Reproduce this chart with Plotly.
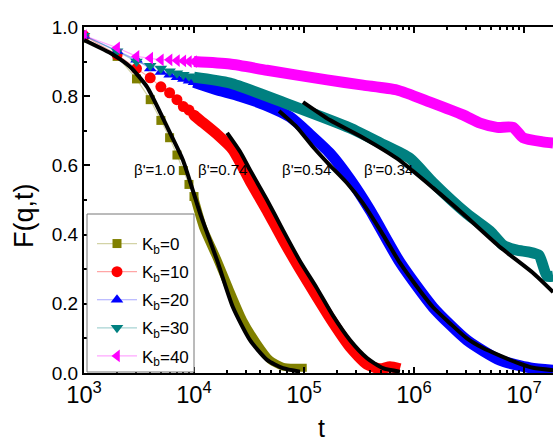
import plotly.graph_objects as go

# ---------------- data ----------------
t_sparse = [1e3, 2e3, 3e3, 4e3, 5e3, 6e3, 7e3, 8e3, 9e3, 1e4]

F0_sparse = [0.968, 0.915, 0.85, 0.79, 0.73, 0.68, 0.63, 0.585, 0.545, 0.51]
F10_sparse = [0.975, 0.92, 0.88, 0.853, 0.827, 0.81, 0.79, 0.77, 0.76, 0.745]
F20_sparse = [0.975, 0.93, 0.905, 0.88, 0.87, 0.862, 0.855, 0.85, 0.845, 0.84]
F30_sparse = [0.975, 0.93, 0.90, 0.888, 0.88, 0.872, 0.866, 0.862, 0.858, 0.855]
F40_sparse = [0.975, 0.94, 0.915, 0.91, 0.905, 0.905, 0.903, 0.902, 0.90, 0.90]

t0_dense = [1e4, 1.21e4, 1.62e4, 2.12e4, 2.79e4, 3.74e4, 4.91e4, 6.44e4, 8.28e4, 1.06e5]
F0_dense = [0.51, 0.42, 0.33, 0.24, 0.153, 0.087, 0.038, 0.018, 0.015, 0.015]

t10_dense = [1e4, 1.14e4, 1.62e4, 2.26e4, 3.23e4, 4.61e4, 6.44e4, 9.2e4, 1.31e5,
             1.84e5, 2.62e5, 3.74e5, 4.91e5, 6.05e5, 7.46e5]
F10_dense = [0.745, 0.73, 0.69, 0.645, 0.555, 0.47, 0.385, 0.30, 0.22,
             0.145, 0.075, 0.025, 0.012, 0.018, 0.012]

t20_dense = [1e4, 1.55e4, 2.62e4, 4.4e4, 7.46e4, 1.13e5, 1.72e5, 2.62e5, 4.0e5,
             7.46e5, 1.49e6, 3.03e6, 6.05e6, 1.14e7, 1.84e7]
F20_dense = [0.84, 0.82, 0.80, 0.775, 0.74, 0.69, 0.635, 0.56, 0.47,
             0.32, 0.19, 0.095, 0.037, 0.015, 0.008]

t30_dense = [1e4, 2.12e4, 7.46e4, 2.62e5, 4.91e5, 9.2e5, 1.49e6, 3.03e6, 4.91e6,
             6.44e6, 8.63e6, 1.09e7, 1.37e7, 1.62e7, 1.84e7]
F30_dense = [0.855, 0.838, 0.775, 0.708, 0.665, 0.62, 0.55, 0.46, 0.41,
             0.37, 0.355, 0.35, 0.34, 0.28, 0.28]

t40_dense = [1e4, 2.12e4, 4.61e4, 1.62e5, 3.44e5, 7.0e5, 1.4e6, 2.79e6, 4.0e6,
             5.69e6, 7.94e6, 9.8e6, 1.49e7, 1.84e7]
F40_dense = [0.90, 0.893, 0.875, 0.847, 0.832, 0.818, 0.783, 0.746, 0.722,
             0.71, 0.71, 0.68, 0.668, 0.665]

# stretched-exponential fits (black lines)
t_fit1 = [1e3, 1.84e3, 2.62e3, 3.74e3, 4.91e3, 6.05e3, 7.94e3, 1.14e4, 1.62e4,
          2.26e4, 3.23e4, 4.61e4, 6.44e4, 9.2e4]
F_fit1 = [0.962, 0.92, 0.885, 0.827, 0.754, 0.694, 0.615, 0.46, 0.326,
          0.19, 0.095, 0.038, 0.014, 0.004]

t_fit2 = [2.0e4, 2.62e4, 3.23e4, 4.61e4, 6.44e4, 9.2e4, 1.31e5, 1.84e5, 2.62e5,
          3.74e5, 5.22e5, 7.46e5]
F_fit2 = [0.694, 0.64, 0.587, 0.50, 0.413, 0.323, 0.245, 0.165, 0.095,
          0.043, 0.014, 0.004]

t_fit3 = [5.93e4, 8.63e4, 1.21e5, 1.72e5, 2.46e5, 3.44e5, 5.22e5, 7.46e5, 1.06e6,
          1.49e6, 2.12e6, 3.03e6, 4.24e6, 6.05e6, 8.63e6, 1.21e7, 1.84e7]
F_fit3 = [0.757, 0.71, 0.653, 0.60, 0.549, 0.49, 0.40, 0.318, 0.25,
          0.19, 0.144, 0.10, 0.072, 0.05, 0.03, 0.015, 0.008]

t_fit4 = [9.8e4, 1.72e5, 3.44e5, 7.0e5, 1.49e6, 3.03e6, 6.05e6, 1.21e7, 1.84e7]
F_fit4 = [0.783, 0.731, 0.68, 0.62, 0.535, 0.45, 0.364, 0.289, 0.234]

labels = ["K<sub>b</sub>=0", "K<sub>b</sub>=10", "K<sub>b</sub>=20",
          "K<sub>b</sub>=30", "K<sub>b</sub>=40"]
beta_labels = ["β'=1.0", "β'=0.74", "β'=0.54", "β'=0.34"]

# ---------------- figure ----------------
series = [
    (F0_sparse, t0_dense, F0_dense, "#808000", "rgba(128,128,0,0.35)", "square", 9, 8),
    (F10_sparse, t10_dense, F10_dense, "#FF0000", "rgba(255,0,0,0.35)", "circle", 11, 11),
    (F20_sparse, t20_dense, F20_dense, "#0000FF", "rgba(0,0,255,0.35)", "triangle-up", 11, 11),
    (F30_sparse, t30_dense, F30_dense, "#008080", "rgba(0,128,128,0.35)", "triangle-down", 11, 11),
    (F40_sparse, t40_dense, F40_dense, "#FF00FF", "rgba(255,0,255,0.35)", "triangle-left", 11, 11),
]

fig = go.Figure()
for i, (fs, td, fd, col, pale, sym, msize, bw) in enumerate(series):
    fig.add_trace(go.Scatter(
        x=td, y=fd, mode="lines",
        line=dict(color=col, width=bw, shape="spline", smoothing=0.6),
        showlegend=False, hoverinfo="skip"))
    fig.add_trace(go.Scatter(
        x=t_sparse, y=fs, mode="lines+markers", name=labels[i],
        legendgroup="g%d" % i,
        line=dict(color=pale, width=1.2),
        marker=dict(symbol=sym, size=msize, color=col, line=dict(width=0))))

for tf, ff in [(t_fit1, F_fit1), (t_fit2, F_fit2), (t_fit3, F_fit3), (t_fit4, F_fit4)]:
    fig.add_trace(go.Scatter(
        x=tf, y=ff, mode="lines",
        line=dict(color="black", width=4, shape="spline", smoothing=0.6),
        showlegend=False, hoverinfo="skip"))

W, H = 553, 442
L, R, T, B = 84, 0, 27, 69
pw, ph = W - L - R, H - T - B

def px(xp):
    return (xp - L) / pw

def py(yp):
    return (H - B - yp) / ph

ann = []
for txt, cx in zip(beta_labels, [154, 222, 306, 388]):
    ann.append(dict(text=txt, x=px(cx), y=py(169), xref="paper", yref="paper",
                    showarrow=False, xanchor="center", yanchor="middle",
                    font=dict(size=15, color="black", family="Liberation Sans, Arial")))
ann.append(dict(text="F(q,t)", x=px(24), y=py(216), xref="paper", yref="paper",
                showarrow=False, textangle=-90, xanchor="center", yanchor="middle",
                font=dict(size=27, color="black", family="Liberation Sans, Arial")))
ann.append(dict(text="t", x=px(321), y=py(428), xref="paper", yref="paper",
                showarrow=False, xanchor="center", yanchor="middle",
                font=dict(size=25, color="black", family="Liberation Sans, Arial")))

# legend frame
fig.add_shape(type="rect", xref="paper", yref="paper",
              x0=px(87), x1=px(194), y0=py(372), y1=py(214),
              line=dict(color="#777777", width=1), fillcolor="white", layer="above")

fig.update_layout(
    width=W, height=H,
    margin=dict(l=L, r=R, t=T, b=B, autoexpand=False),
    paper_bgcolor="white", plot_bgcolor="white",
    font=dict(family="Liberation Sans, Arial", color="black"),
    showlegend=True,
    legend=dict(x=px(92), y=py(226), xanchor="left", yanchor="top",
                borderwidth=0, bgcolor="rgba(0,0,0,0)",
                font=dict(size=17), traceorder="grouped", tracegroupgap=3,
                itemwidth=40),
    annotations=ann,
)
fig.update_xaxes(
    type="log", range=[3, 7.264], dtick=1, exponentformat="power",
    showline=True, linewidth=2, linecolor="black", mirror="ticks",
    ticks="inside", ticklen=6, tickwidth=1.5, tickcolor="black",
    minor=dict(ticks="inside", ticklen=3, dtick="D1", tickcolor="black", showgrid=False),
    showgrid=False, zeroline=False, tickfont=dict(size=19), automargin=False,
)
fig.update_yaxes(
    range=[0, 1.0], dtick=0.2, tickformat=".1f",
    showline=True, linewidth=2, linecolor="black", mirror=False,
    ticks="inside", ticklen=6, tickwidth=1.5, tickcolor="black",
    minor=dict(ticks="inside", ticklen=3, dtick=0.1, tickcolor="black", showgrid=False),
    showgrid=False, zeroline=False, tickfont=dict(size=19), automargin=False,
)

fig.write_html("out.html", config={"displayModeBar": False},
               post_script="document.body.style.margin='0px';document.body.style.overflow='hidden';")
